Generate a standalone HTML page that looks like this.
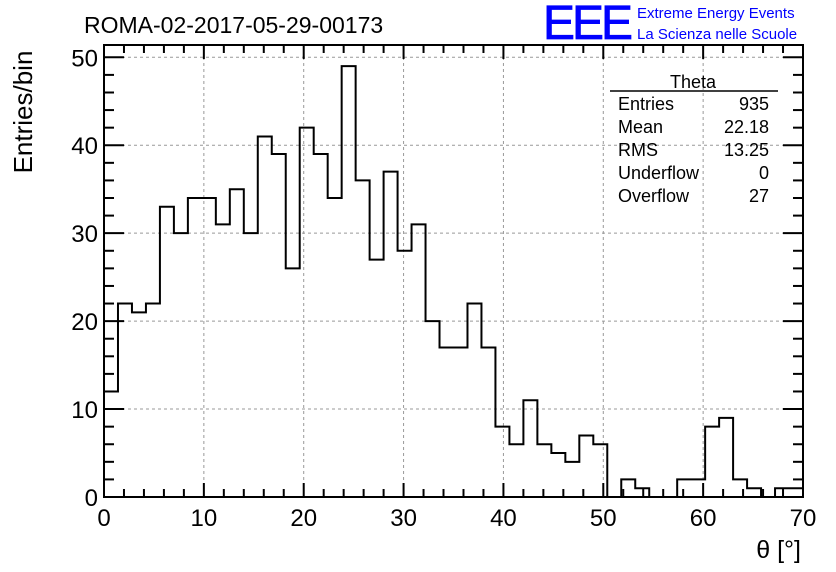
<!DOCTYPE html>
<html><head><meta charset="utf-8"><style>
body{margin:0;background:#fff;}
svg{display:block;font-family:"Liberation Sans",sans-serif;}
</style></head><body>
<svg id="chart" width="836" height="572" viewBox="0 0 836 572">
<text x="84" y="33" font-size="23">ROMA-02-2017-05-29-00173</text>
<text x="543" y="39" font-size="48" fill="#0000ff" stroke="#0000ff" stroke-width="0.8" letter-spacing="-3">EEE</text>
<text x="637" y="18" font-size="15" fill="#0000ff">Extreme Energy Events</text>
<text x="637" y="39" font-size="15" fill="#0000ff">La Scienza nelle Scuole</text>
<g id="grid"></g>
<path id="hist" fill="none" stroke="#000" stroke-width="2"></path>
<g id="axes"></g>
<text transform="translate(32,112) rotate(-90)" text-anchor="middle" font-size="26">Entries/bin</text>
<text x="801" y="558" text-anchor="end" font-size="25">θ [°]</text>
<g>
<text x="693" y="88" text-anchor="middle" font-size="18">Theta</text>
<line x1="610" y1="91" x2="778" y2="91" stroke="#000" stroke-width="1.5"/>
<g id="stats" font-size="18"></g>
</g>
</svg>
<script>
const binValues=[12,22,21,22,33,30,34,34,31,35,30,41,39,26,42,39,34,49,36,27,37,28,31,20,17,17,22,17,8,6,11,6,5,4,7,6,0,2,1,0,0,2,2,8,9,2,1,0,1,1];
const xTickLabels=[0,10,20,30,40,50,60,70];
const yTickLabels=[0,10,20,30,40,50];
const statNames=["Entries","Mean","RMS","Underflow","Overflow"];
const statValues=["935","22.18","13.25","0","27"];
const X0=104,X1=803,Y0=497,Y1=45,xmin=0,xmax=70,ymin=0,ymax=51.4;
const sx=v=>X0+(v-xmin)/(xmax-xmin)*(X1-X0);
const sy=v=>Y0-(v-ymin)/(ymax-ymin)*(Y0-Y1);
const NS="http://www.w3.org/2000/svg";
function mk(tag,parent,attrs){const e=document.createElementNS(NS,tag);for(const k in attrs)e.setAttribute(k,attrs[k]);parent.appendChild(e);return e;}
const grid=document.getElementById('grid'),axes=document.getElementById('axes');
xTickLabels.forEach(v=>{if(v>xmin&&v<xmax){const l=mk('line',grid,{x1:sx(v),x2:sx(v),y1:Y1,y2:Y0,stroke:'#999','stroke-dasharray':'3,3'});

}});
yTickLabels.forEach(v=>{if(v>ymin){const l=mk('line',grid,{x1:X0,x2:X1,y1:sy(v),y2:sy(v),stroke:'#999','stroke-dasharray':'3,3'});

}});
const w=(xmax-xmin)/binValues.length;
let d=`M${sx(0)},${sy(0)}`;
binValues.forEach((v,i)=>{d+=` L${sx(i*w)},${sy(v)} L${sx((i+1)*w)},${sy(v)}`;});
d+=` L${sx(xmax)},${sy(0)}`;
document.getElementById('hist').setAttribute('d',d);
const fr=mk('rect',axes,{x:X0,y:Y1,width:X1-X0,height:Y0-Y1,fill:'none',stroke:'#000','stroke-width':2});


for(let v=0;v<=70;v+=2){const L=v%10===0?14:8;
mk('line',axes,{x1:sx(v),x2:sx(v),y1:Y0,y2:Y0-L,stroke:'#000','stroke-width':2});
mk('line',axes,{x1:sx(v),x2:sx(v),y1:Y1,y2:Y1+L,stroke:'#000','stroke-width':2});}
for(let v=0;v<=50;v+=2){const L=v%10===0?20:10;
mk('line',axes,{x1:X0,x2:X0+L,y1:sy(v),y2:sy(v),stroke:'#000','stroke-width':2});
mk('line',axes,{x1:X1,x2:X1-L,y1:sy(v),y2:sy(v),stroke:'#000','stroke-width':2});}
xTickLabels.forEach(v=>{const t=mk('text',axes,{x:sx(v),y:Y0+29,'text-anchor':'middle','font-size':24});t.textContent=v;

});
yTickLabels.forEach(v=>{const t=mk('text',axes,{x:X0-6,y:sy(v)+9,'text-anchor':'end','font-size':24});t.textContent=v;

});
const st=document.getElementById('stats');
statNames.forEach((n,i)=>{const y=110+i*23;
const a=mk('text',st,{x:618,y:y});a.textContent=n;


const b=mk('text',st,{x:769,y:y,'text-anchor':'end'});b.textContent=statValues[i];

});
</script>
</body></html>
